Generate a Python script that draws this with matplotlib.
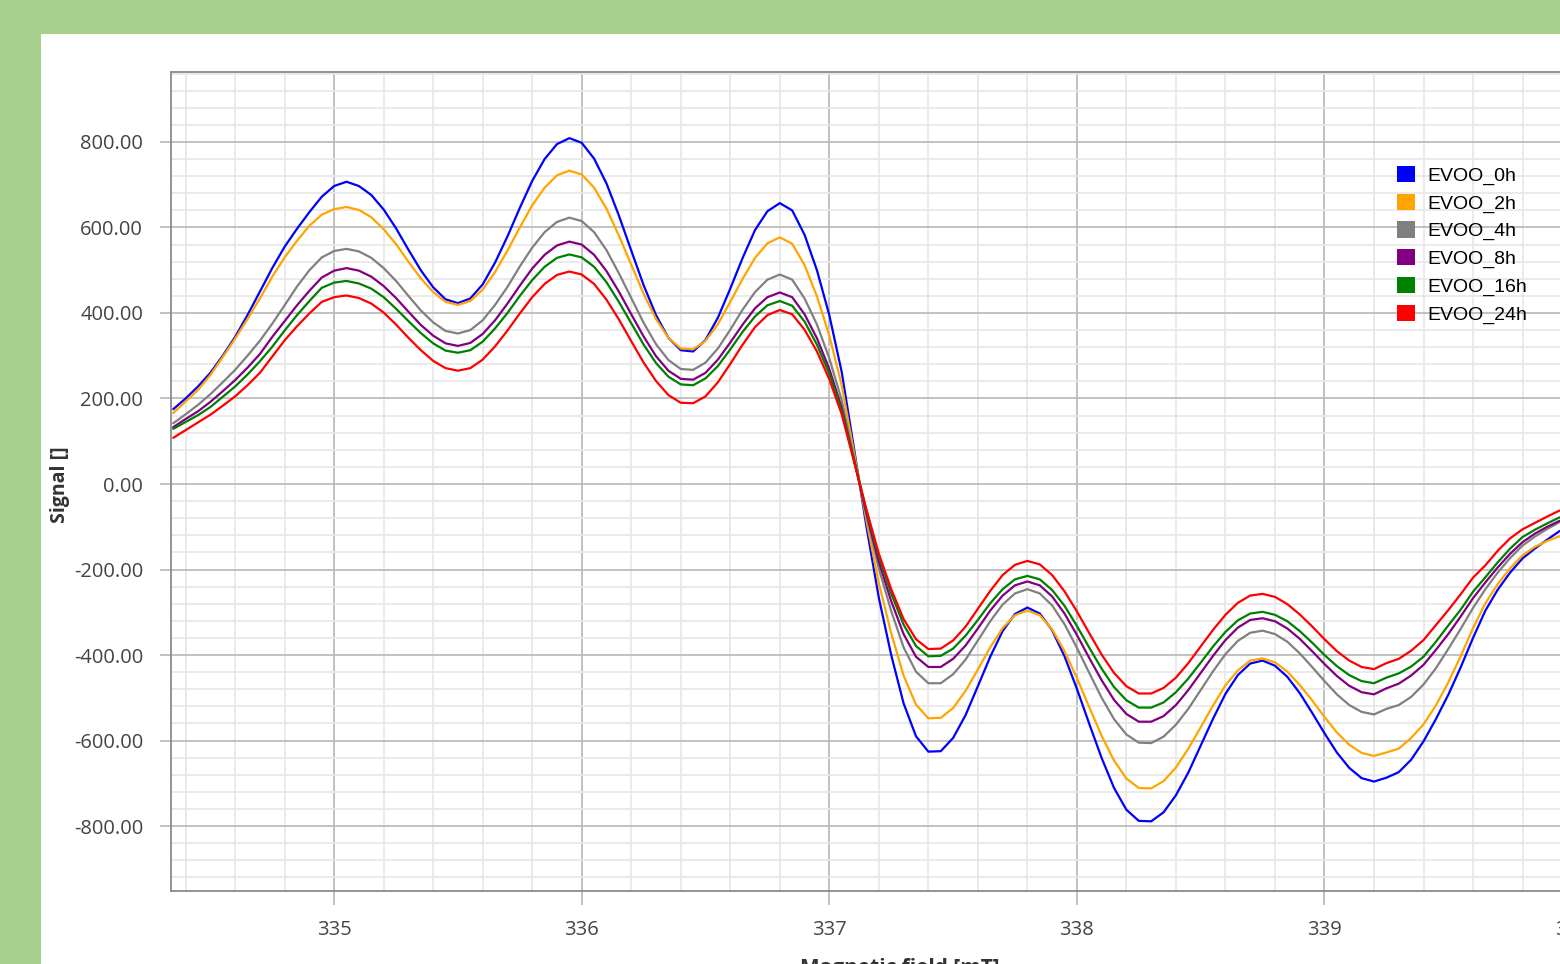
import numpy as np
import matplotlib
matplotlib.use('Agg')
import matplotlib.pyplot as plt
from matplotlib.patches import Patch, Rectangle
from matplotlib.ticker import MultipleLocator, FormatStrFormatter

# magnetic field grid [mT]
field = [334.35, 334.40, 334.45, 334.50, 334.55, 334.60, 334.65, 334.70, 334.75, 334.80,
         334.85, 334.90, 334.95, 335.00, 335.05, 335.10, 335.15, 335.20, 335.25, 335.30,
         335.35, 335.40, 335.45, 335.50, 335.55, 335.60, 335.65, 335.70, 335.75, 335.80,
         335.85, 335.90, 335.95, 336.00, 336.05, 336.10, 336.15, 336.20, 336.25, 336.30,
         336.35, 336.40, 336.45, 336.50, 336.55, 336.60, 336.65, 336.70, 336.75, 336.80,
         336.85, 336.90, 336.95, 337.00, 337.05, 337.10, 337.15, 337.20, 337.25, 337.30,
         337.35, 337.40, 337.45, 337.50, 337.55, 337.60, 337.65, 337.70, 337.75, 337.80,
         337.85, 337.90, 337.95, 338.00, 338.05, 338.10, 338.15, 338.20, 338.25, 338.30,
         338.35, 338.40, 338.45, 338.50, 338.55, 338.60, 338.65, 338.70, 338.75, 338.80,
         338.85, 338.90, 338.95, 339.00, 339.05, 339.10, 339.15, 339.20, 339.25, 339.30,
         339.35, 339.40, 339.45, 339.50, 339.55, 339.60, 339.65, 339.70, 339.75, 339.80,
         339.85, 339.90, 339.95]

evoo_0h = [175, 200, 228, 260, 300, 344, 395, 450, 505, 555, 597, 636, 672, 697, 707,
           697, 676, 642, 598, 548, 500, 460, 432, 423,
           434, 467, 518, 579, 646, 709, 760, 795, 809,
           798, 761, 703, 628, 546, 465, 395, 342, 313,
           310, 337, 389, 457, 529, 594, 638, 657,
           640, 583, 500, 395, 262, 82, -100, -266, -400, -513, -590, -626,
           -625, -594, -541, -473, -404, -344, -304, -289,
           -303, -342, -403, -479, -561, -641, -711, -762, -788,
           -789, -768, -728, -675, -612, -549, -491, -447, -420, -413,
           -425, -451, -489, -535, -583, -628, -664, -688, -696,
           -687, -674, -645, -602, -550, -493, -429, -360, -296, -247, -207, -174, -151, -130, -110]

evoo_2h = [166, 193, 220, 255, 297, 340, 386, 434, 485, 530, 569, 604, 630, 643, 648,
           641, 624, 596, 561, 520, 481, 449, 426, 419,
           428, 455, 496, 546, 600, 652, 693, 722, 733,
           724, 693, 644, 581, 513, 445, 386, 342, 317,
           315, 335, 374, 426, 480, 529, 563, 577,
           562, 512, 439, 347, 231, 73, -86, -232, -349, -448, -516, -548,
           -547, -524, -484, -434, -382, -337, -307, -296,
           -307, -340, -391, -454, -522, -589, -647, -689, -711,
           -712, -695, -663, -619, -569, -518, -471, -436, -413, -408,
           -417, -439, -470, -506, -545, -581, -610, -629, -636,
           -628, -619, -594, -562, -518, -464, -403, -337, -279, -234, -197, -167, -147, -133, -122]

evoo_4h = [142, 163, 185, 210, 238, 267, 300, 335, 375, 418, 462, 500, 530, 545, 550,
           544, 529, 505, 475, 440, 406, 378, 358, 352,
           360, 383, 419, 461, 509, 553, 589, 613, 623,
           615, 589, 547, 493, 435, 377, 327, 290, 269,
           267, 284, 317, 361, 408, 449, 478, 490,
           478, 434, 373, 294, 196, 61, -74, -198, -297, -382, -439, -466,
           -466, -445, -411, -366, -321, -282, -256, -246,
           -256, -284, -328, -383, -442, -500, -550, -586, -605,
           -606, -591, -563, -526, -482, -438, -398, -367, -348, -343,
           -351, -369, -396, -428, -461, -492, -517, -533, -539,
           -526, -517, -498, -469, -431, -386, -339, -290, -246, -207, -173, -144, -123, -105, -89]

evoo_8h = [133, 152, 170, 192, 217, 243, 272, 304, 344, 381, 418, 452, 483, 499, 505,
           499, 485, 463, 435, 403, 372, 347, 329, 323,
           330, 351, 383, 422, 464, 504, 536, 558, 567,
           560, 536, 498, 450, 397, 345, 299, 265, 246,
           244, 260, 291, 331, 373, 411, 437, 448,
           437, 397, 341, 269, 178, 55, -69, -182, -274, -351, -404, -428,
           -428, -409, -378, -338, -296, -261, -237, -228,
           -237, -263, -303, -353, -407, -459, -505, -538, -556,
           -556, -543, -517, -482, -442, -402, -365, -336, -318, -314,
           -321, -338, -362, -391, -421, -449, -472, -487, -492,
           -478, -467, -448, -423, -388, -351, -310, -267, -230, -195, -163, -136, -116, -100, -86]

evoo_16h = [129, 145, 161, 180, 204, 228, 256, 287, 321, 359, 395, 428, 459, 471, 475,
            469, 457, 437, 410, 381, 353, 329, 312, 307,
            313, 333, 364, 400, 440, 477, 508, 529, 537,
            530, 508, 472, 426, 376, 326, 283, 251, 233,
            231, 247, 276, 315, 356, 392, 418, 428,
            417, 380, 326, 258, 172, 56, -62, -169, -256, -329, -379, -403,
            -402, -385, -355, -318, -279, -246, -223, -215,
            -223, -248, -285, -332, -383, -432, -475, -506, -523,
            -523, -511, -487, -455, -418, -380, -346, -319, -303, -299,
            -306, -321, -344, -371, -400, -426, -447, -461, -466,
            -453, -443, -427, -404, -369, -331, -294, -252, -218, -183, -151, -124, -107, -92, -78]

evoo_24h = [108, 126, 144, 162, 183, 205, 231, 260, 298, 336, 369, 399, 426, 437, 441,
            435, 422, 401, 373, 342, 313, 288, 271, 265,
            271, 291, 322, 359, 399, 437, 468, 489, 497,
            490, 468, 431, 385, 334, 284, 241, 208, 190,
            189, 205, 238, 281, 326, 367, 395, 407,
            397, 361, 310, 245, 163, 52, -60, -163, -246, -316, -363, -386,
            -385, -366, -334, -292, -250, -213, -189, -180,
            -188, -213, -251, -298, -349, -399, -442, -473, -490,
            -490, -477, -453, -419, -380, -341, -306, -278, -261, -257,
            -264, -281, -305, -333, -363, -391, -413, -428, -433,
            -419, -409, -390, -365, -330, -295, -258, -219, -190, -156, -127, -106, -91, -76, -62]

labels = ["EVOO_0h", "EVOO_2h", "EVOO_4h", "EVOO_8h", "EVOO_16h", "EVOO_24h"]
signals = [evoo_0h, evoo_2h, evoo_4h, evoo_8h, evoo_16h, evoo_24h]
colors = ["#0000ff", "#ffa500", "#808080", "#800080", "#008000", "#ff0000"]

W, H = 1560, 964
fig = plt.figure(figsize=(W / 100, H / 100), dpi=100)
fig.patch.set_facecolor('#a8d08d')
fig.add_artist(Rectangle((41 / W, 0), 1, 1 - 34 / H, transform=fig.transFigure,
                         facecolor='white', edgecolor='none', zorder=0))

ax = fig.add_axes([171 / W, 1 - 891 / H, (1629 - 171) / W, (891 - 72) / H])
ax.set_facecolor('white')

for lab, sig, col in zip(labels, signals, colors):
    ax.plot(field, sig, color=col, lw=1.6, label=lab, zorder=3,
            solid_joinstyle='round', solid_capstyle='round')

ax.set_xlim(334.341, 340.23)
ax.set_ylim(-952, 963.7)

ax.xaxis.set_major_locator(MultipleLocator(1))
ax.xaxis.set_minor_locator(MultipleLocator(0.2))
ax.yaxis.set_major_locator(MultipleLocator(200))
ax.yaxis.set_minor_locator(MultipleLocator(40))
ax.yaxis.set_major_formatter(FormatStrFormatter('%.2f'))
ax.xaxis.set_major_formatter(FormatStrFormatter('%d'))

ax.grid(which='major', color='#bcbcbc', lw=1.3, zorder=1)
ax.grid(which='minor', color='#e8e8e8', lw=1.3, zorder=0)
ax.set_axisbelow(True)

for side in ['left', 'top', 'bottom']:
    ax.spines[side].set_color('#8a8a8a')
    ax.spines[side].set_linewidth(1.3)
ax.spines['right'].set_visible(False)

ax.tick_params(axis='y', which='major', length=8, width=1.3, color='#bcbcbc', pad=12,
               labelsize=14.5, labelcolor='#444444')
ax.tick_params(axis='x', which='major', length=10, width=1.3, color='#bcbcbc', pad=11,
               labelsize=14.5, labelcolor='#444444')
ax.tick_params(which='minor', length=0)
for t in ax.get_xticklabels() + ax.get_yticklabels():
    t.set_fontfamily('Open Sans')

fig.text(60 / W, 1 - 485 / H, "Signal []", rotation=90, ha='center', va='center',
         fontsize=14, fontweight='bold', color='#333333', family='Open Sans')
fig.text(900 / W, 1 - 974 / H, "Magnetic field [mT]", ha='center', va='baseline',
         fontsize=15, fontweight='bold', color='#333333', family='Open Sans')

handles = [Patch(facecolor=c, edgecolor='none') for c in colors]
fig.legend(handles, labels, loc='upper left', bbox_to_anchor=(1397 / W, 1 - 166 / H),
           bbox_transform=fig.transFigure, frameon=False, borderpad=0, borderaxespad=0,
           handlelength=0.9, handleheight=0.9, handletextpad=0.65, labelspacing=0.45,
           prop={'family': 'Liberation Sans', 'size': 14})

fig.savefig('out.png', dpi=100, facecolor=fig.get_facecolor())
